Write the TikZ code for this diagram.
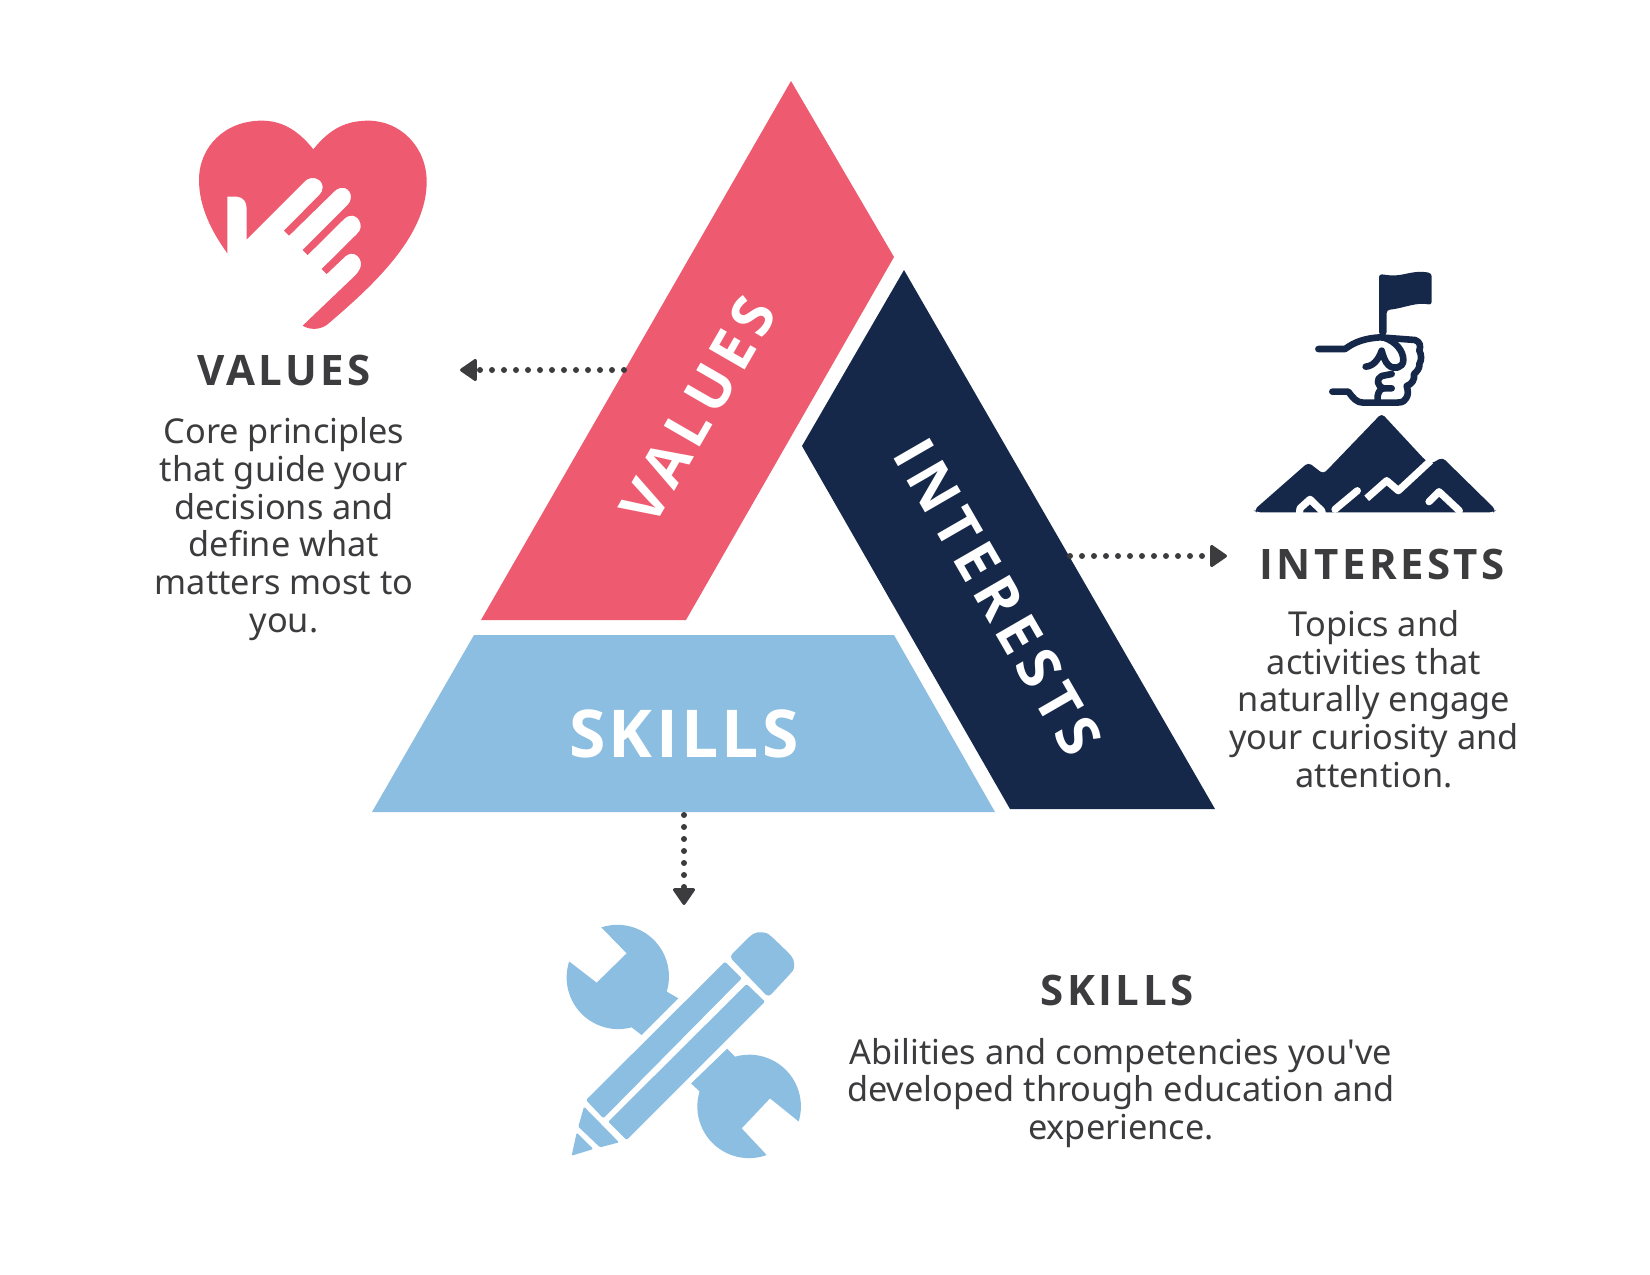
\documentclass[tikz,border=0pt]{standalone}
\usepackage{fontspec}
\setmainfont{Noto Sans}
\newfontfamily\headfont[LetterSpace=8.3]{Open Sans}
\newfontfamily\bandfont[LetterSpace=11.5]{Open Sans}
\newfontfamily\skillfont[LetterSpace=5]{Open Sans}
\usetikzlibrary{arrows.meta}
\definecolor{redc}{HTML}{EE5A6F}
\definecolor{navyc}{HTML}{152849}
\definecolor{bluec}{HTML}{8BBEE0}
\definecolor{inkc}{HTML}{3C3C3E}
\tikzset{
  bodytext/.style={text=inkc,align=center,inner sep=0pt,font=\fontsize{17.15}{18.85}\selectfont},
  headtext/.style={text=inkc,inner sep=0pt,font=\headfont\bfseries\fontsize{21}{24}\selectfont},
  bandtext/.style={text=white,inner sep=0pt,font=\bandfont\bfseries\fontsize{29}{32}\selectfont},
  dotarrow/.style={draw=inkc,line width=3pt,line cap=round,dash pattern=on 0pt off 6pt,
     -{Triangle[length=9pt,width=12pt,round,line width=1.5pt,fill=inkc,sep=0pt]}},
  zoomed/.style={x=0.16667pt,y=-0.16667pt},
  handline/.style={draw=navyc,line width=3.3pt,line cap=round,line join=round},
  cutline/.style={draw=white,line width=3.6pt,line join=round},
}
\begin{document}
\begin{tikzpicture}[x=0.5pt,y=-0.5pt]
\useasboundingbox (0,0) rectangle (1650,1275);
\fill[white] (0,0) rectangle (1650,1275);

% triangle bands
\fill[redc] (791,81) -- (894,257) -- (686,620) -- (481,620) -- cycle;
\fill[navyc] (904,270) -- (1215,809) -- (1010,809) -- (802,446) -- cycle;
\fill[bluec] (474,635) -- (894,635) -- (995,812) -- (372,812) -- cycle;
\node[bandtext,rotate=60] (bandvalues) at (698,410) {VALUES};
\node[bandtext,rotate=-60] (bandinterests) at (998,597) {INTERESTS};
\node[bandtext,font=\skillfont\bfseries\fontsize{33}{36}\selectfont] (bandskills) at (684,734) {SKILLS};

% heart icon
\begin{scope}[shift={(180,100)},zoomed]
\fill[redc] (400,148) .. controls (350,85) and (300,62) .. (245,62)
  .. controls (135,62) and (57,140) .. (57,240)
  .. controls (57,320) and (95,395) .. (142,460)
  -- (142,290) -- (172,290) .. controls (190,292) and (200,305) .. (200,325)
  -- (200,418) -- (375,243) .. controls (395,225) and (428,235) .. (428,262)
  .. controls (428,272) and (425,278) .. (418,285)
  -- (312,392) -- (327,407) -- (462,275) .. controls (485,252) and (513,265) .. (513,292)
  .. controls (513,302) and (508,310) .. (503,315)
  -- (368,450) -- (383,465) -- (492,357) .. controls (515,335) and (542,352) .. (542,378)
  .. controls (542,390) and (537,397) .. (530,403)
  -- (425,507) -- (440,522) -- (497,468) .. controls (520,450) and (543,470) .. (543,492)
  .. controls (543,505) and (535,517) .. (525,527)
  -- (368,677) .. controls (385,688) and (415,692) .. (440,675)
  .. controls (600,540) and (740,400) .. (740,245)
  .. controls (740,140) and (660,62) .. (565,62)
  .. controls (500,62) and (450,85) .. (400,148) -- cycle;
\end{scope}

% flag, hand and mountains icon
\begin{scope}[shift={(1240,260)},zoomed]
\fill[navyc,rounded corners=1.5pt] (417,225) -- (417,42) -- (440,45)
  .. controls (490,50) and (520,28) .. (575,40)
  -- (575,135) .. controls (530,125) and (490,145) .. (440,150) -- (440,225) -- cycle;
\draw[handline] (235,267) -- (315,267) .. controls (345,245) and (375,235) .. (420,232)
  -- (525,240) .. controls (540,245) and (543,258) .. (538,272)
  .. controls (545,285) and (545,300) .. (538,312)
  .. controls (540,325) and (530,335) .. (522,342)
  .. controls (525,360) and (515,372) .. (500,378)
  .. controls (505,395) and (505,405) .. (498,415)
  .. controls (490,428) and (480,428) .. (470,428)
  -- (370,428) .. controls (350,428) and (340,415) .. (325,395) -- (277,395);
\draw[handline] (430,232) .. controls (470,245) and (490,275) .. (490,300)
  .. controls (490,325) and (460,330) .. (445,315) .. controls (435,305) and (430,290) .. (425,272)
  .. controls (415,300) and (400,318) .. (377,320);
\draw[handline] (413,428) -- (413,408) .. controls (415,392) and (425,385) .. (432,385) -- (455,385);
\draw[handline] (432,385) .. controls (410,380) and (408,355) .. (425,348) -- (455,342);
\fill[navyc,rounded corners=2pt] (42,750) -- (205,607) -- (250,642) -- (425,460)
  -- (555,600) -- (572,612) -- (607,592) -- (768,750) -- (760,757) -- (50,757) -- cycle;
\draw[cutline] (380,715) -- (440,662) -- (475,692) -- (572,602);
\draw[cutline,line cap=round] (285,748) -- (352,692);
\draw[cutline] (178,762) -- (180,745) -- (210,718) -- (245,752) -- (248,765);
\draw[cutline,line cap=round] (567,725) -- (597,695) -- (658,752);
\fill[white] (100,758) rectangle (700,775);
\end{scope}

% wrench and pencil icon
\begin{scope}[shift={(550,910)},zoomed]
\fill[bluec,line join=round] (154,52) arc[start angle=-108,end angle=17,radius=155]
  -- (385,265) -- (275,375) -- (245,352) arc[start angle=75,end angle=198,radius=155]
  -- (140,218) -- (230,130) -- cycle;
\fill[bluec] (555,440) arc[start angle=-106,end angle=17,radius=155]
  -- (660,565) -- (575,655) -- (650,735) arc[start angle=70,end angle=197,radius=155]
  -- (423,520) -- (530,415) -- cycle;
% white halo round the pencil
\fill[white] (525,130) -- (672,280) -- (215,720) -- (70,590) -- cycle;
\fill[bluec,rounded corners=2pt] (538,140) -- (600,78) .. controls (625,62) and (650,68) .. (665,80)
  -- (715,128) .. controls (735,150) and (735,175) .. (720,192) -- (655,262) -- cycle;
\fill[bluec,rounded corners=0.6pt] (525,155) -- (575,205) -- (160,625) -- (108,570) -- cycle;
\fill[bluec,rounded corners=0.6pt] (590,222) -- (645,275) -- (230,690) -- (175,635) -- cycle;
\fill[bluec,rounded corners=0.6pt] (102,590) -- (207,697) -- (150,712) -- (85,650) -- cycle;
\fill[bluec,rounded corners=0.6pt] (80,668) -- (130,717) -- (65,737) -- cycle;
\end{scope}

% headings and descriptions
\node[headtext] (hvalues) at (284,370) {VALUES};
\node[bodytext] (tvalues) at (284,529) {Core principles\\that guide your\\decisions and\\define what\\matters most to\\you.};
\node[headtext] (hinterests) at (1382,564) {INTERESTS};
\node[bodytext] (tinterests) at (1374,699) {Topics and\\activities that\\naturally engage\\your curiosity and\\attention.};
\node[headtext] (hskills) at (1117,990) {SKILLS};
\node[bodytext] (tskills) at (1121,1093) {Abilities and competencies you\textquotesingle ve\\developed through education and\\experience.};

% dotted connectors
\coordinate (valstart) at (624,370);
\coordinate (valend) at (460,370);
\coordinate (intstart) at (1070,556);
\coordinate (intend) at (1227,556);
\coordinate (skistart) at (684,815);
\coordinate (skiend) at (684,905);
\draw[dotarrow] (valstart) -- (valend);
\draw[dotarrow] (intstart) -- (intend);
\draw[dotarrow] (skistart) -- (skiend);
\end{tikzpicture}
\end{document}
